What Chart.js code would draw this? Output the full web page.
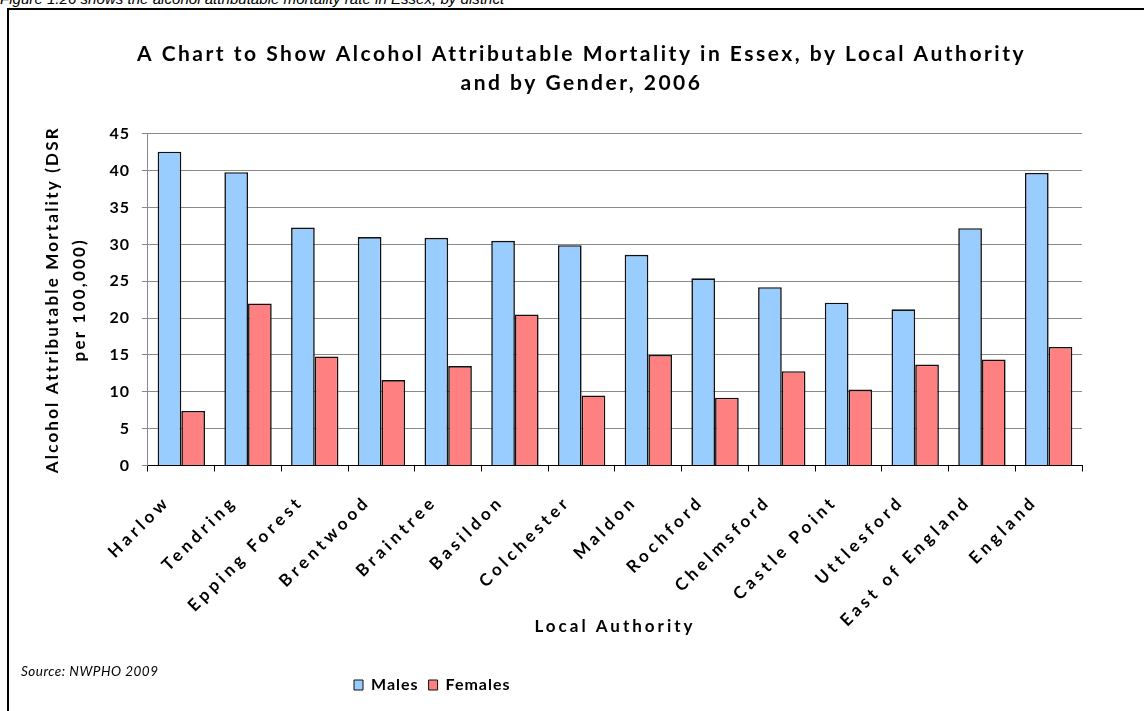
<!DOCTYPE html>
<html>
<head>
<meta charset="utf-8">
<title>Alcohol Attributable Mortality in Essex</title>
<script src="https://cdn.jsdelivr.net/npm/chart.js@4"></script>
<style>
  html, body { margin: 0; padding: 0; background: #fff; }
  body { width: 1144px; height: 711px; position: relative; overflow: hidden; }
  #caption {
    position: absolute; left: 0; top: -9px;
    font: italic 15.1px "Liberation Sans", Arial, sans-serif;
    color: #000; white-space: nowrap; line-height: 16px;
  }
  #frame {
    position: absolute; left: 7px; top: 8px; width: 1200px; height: 800px;
    border-left: 2px solid #000; border-top: 2px solid #000;
  }
  #source {
    position: absolute; left: 21px; top: 663px;
    font: italic 13.5px Lato, "Open Sans", sans-serif; letter-spacing: 0.5px;
    color: #000; white-space: nowrap;
  }
  #chart { position: absolute; left: 0; top: 0; }
</style>
</head>
<body>
<div id="caption">Figure 1.26 shows the alcohol attributable mortality rate in Essex, by district</div>
<div id="frame"></div>
<canvas id="chart" width="1144" height="711"></canvas>
<div id="source">Source: NWPHO 2009</div>
<script>
// Local authorities, in the order shown on the x axis
const authorities = [
  'Harlow', 'Tendring', 'Epping Forest', 'Brentwood', 'Braintree', 'Basildon',
  'Colchester', 'Maldon', 'Rochford', 'Chelmsford', 'Castle Point', 'Uttlesford',
  'East of England', 'England'
];

// Directly standardised rates per 100,000, 2006
const males = [42.6, 39.8, 32.3, 31.0, 30.9, 30.5, 29.9, 28.6, 25.4, 24.2, 22.1, 21.2, 32.2, 39.7];
const females = [7.4, 22.0, 14.8, 11.6, 13.5, 20.5, 9.5, 15.0, 9.2, 12.8, 10.3, 13.7, 14.4, 16.1];

const yTicks = [0, 5, 10, 15, 20, 25, 30, 35, 40, 45];

const titleLines = [
  'A Chart to Show Alcohol Attributable Mortality in Essex, by Local Authority',
  'and by Gender, 2006'
];
const yTitleLines = ['Alcohol Attributable Mortality (DSR', 'per 100,000)'];
const xTitle = 'Local Authority';

const FONT = 'Lato, "Open Sans", sans-serif';
const BASE_SPACING = '1px';

// Run a drawing method with a given letter spacing on the canvas context
function spaced(obj, method, spacing) {
  const orig = obj[method];
  if (!orig || orig.__spaced) return;
  const wrapped = function (...args) {
    const ctx = this.ctx;
    const prev = ctx.letterSpacing;
    ctx.letterSpacing = spacing;
    try { return orig.apply(this, args); } finally { ctx.letterSpacing = prev; }
  };
  wrapped.__spaced = true;
  obj[method] = wrapped;
}

// Default tracking for canvas text, plus wider tracking for the title
const tracking = {
  id: 'tracking',
  beforeUpdate(chart) { chart.ctx.letterSpacing = BASE_SPACING; },
  beforeLayout(chart) { chart.ctx.letterSpacing = BASE_SPACING; },
  beforeDraw(chart) {
    chart.ctx.letterSpacing = BASE_SPACING;
    if (chart.titleBlock) spaced(chart.titleBlock, 'draw', '2.5px');
  }
};

// Horizontal placement of the title and legend boxes
const boxPlacement = {
  id: 'boxPlacement',
  afterLayout(chart) {
    const t = chart.titleBlock;
    if (t) { const dx = 21; t.left += dx; t.right += dx; }
    const lg = chart.legend;
    if (lg) { const dx = 344 - lg.left; lg.left += dx; lg.right += dx; }
  }
};

new Chart(document.getElementById('chart'), {
  type: 'bar',
  data: {
    labels: authorities,
    datasets: [
      {
        label: 'Males', data: males,
        backgroundColor: '#99CCFF', borderColor: '#111', borderWidth: 1.6,
        categoryPercentage: 0.71, barPercentage: 1
      },
      {
        label: 'Females', data: females,
        backgroundColor: '#FF8080', borderColor: '#111', borderWidth: 1.6,
        categoryPercentage: 0.71, barPercentage: 1
      }
    ]
  },
  options: {
    responsive: false,
    animation: false,
    devicePixelRatio: 1,
    layout: { padding: { left: 39, right: 62, top: 20, bottom: 8 } },
    plugins: {
      title: {
        display: true, text: titleLines, color: '#000',
        font: { family: FONT, size: 21, weight: 'bold', lineHeight: 1.38 },
        padding: { top: 20, bottom: 36 }
      },
      legend: {
        position: 'bottom', align: 'start',
        labels: {
          color: '#000', boxWidth: 9, boxHeight: 10, padding: 10,
          font: { family: FONT, size: 16, weight: 'bold' },
          generateLabels(chart) {
            return chart.data.datasets.map((ds, i) => ({
              text: ds.label, fillStyle: ds.backgroundColor, strokeStyle: '#111',
              lineWidth: 1, datasetIndex: i, hidden: false
            }));
          }
        }
      },
      tooltip: { enabled: false }
    },
    scales: {
      x: {
        beforeUpdate(scale) {
          scale.ctx.letterSpacing = '4px';
          spaced(scale, 'drawLabels', '4px');
          spaced(scale, 'drawTitle', '3px');
        },
        afterFit(scale) { scale.ctx.letterSpacing = BASE_SPACING; },
        grid: { drawOnChartArea: false, drawTicks: true, tickLength: 6, color: '#000', offset: true },
        border: { color: '#000', width: 1 },
        ticks: {
          color: '#000', minRotation: 45, maxRotation: 45, padding: 20, labelOffset: -14,
          font: { family: FONT, size: 17, weight: 'bold' }
        },
        title: {
          display: true, text: xTitle, color: '#000',
          font: { family: FONT, size: 17, weight: 'bold' },
          padding: { top: -34, bottom: 30 }
        }
      },
      y: {
        min: 0, max: 45,
        beforeUpdate(scale) {
          scale.ctx.letterSpacing = BASE_SPACING;
          spaced(scale, 'drawTitle', '2.2px');
        },
        afterBuildTicks(scale) { scale.ticks = yTicks.map(v => ({ value: v })); },
        grid: { color: '#8a8a8a', lineWidth: 1, tickLength: 6 },
        border: { color: '#8a8a8a', width: 1 },
        ticks: {
          color: '#000', padding: 12,
          font: { family: FONT, size: 16, weight: 'bold' }
        },
        title: {
          display: true, text: yTitleLines, color: '#000',
          font: { family: FONT, size: 17, weight: 'bold', lineHeight: 1.6 },
          padding: { top: 0, bottom: 4 }
        }
      }
    }
  },
  plugins: [tracking, boxPlacement]
});
</script>
</body>
</html>
